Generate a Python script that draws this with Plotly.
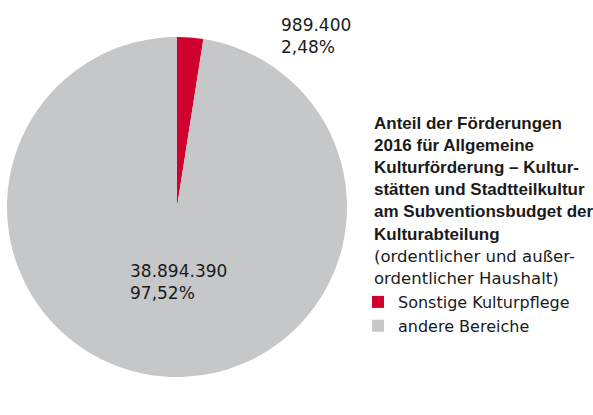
import plotly.graph_objects as go

# ---- data ----
labels = ["Sonstige Kulturpflege", "andere Bereiche"]
values = [989400, 38894390]
colors = ["#D0002F", "#C6C7C9"]

title_bold_lines = [
    "Anteil der Förderungen",
    "2016 für Allgemeine",
    "Kulturförderung – Kultur-",
    "stätten und Stadtteilkultur",
    "am Subventionsbudget der",
    "Kulturabteilung",
]
title_plain_lines = [
    "(ordentlicher und außer-",
    "ordentlicher Haushalt)",
]

W, H = 593, 415
BOLDFONT = "Liberation Sans, Arial, sans-serif"
FONT = "DejaVu Sans, sans-serif"
TXT = "#1a1a1a"


def de_num(v):
    return f"{v:,}".replace(",", ".")


def de_pct(p):
    return f"{p:.2f}".replace(".", ",") + "%"


total = sum(values)
pcts = [v / total * 100 for v in values]

fig = go.Figure(
    go.Pie(
        labels=labels,
        values=values,
        marker=dict(colors=colors, line=dict(width=0)),
        sort=False,
        direction="clockwise",
        rotation=0,
        textinfo="none",
        hoverinfo="label+value+percent",
        domain=dict(x=[7 / W, 347 / W], y=[1 - 377 / H, 1 - 37 / H]),
    )
)

annotations = []
# slice value labels
label_pos = [(279, 13), (128, 259)]
for (px, py), v, p in zip(label_pos, values, pcts):
    annotations.append(
        dict(
            x=px / W, y=1 - py / H, xref="paper", yref="paper",
            xanchor="left", yanchor="top", align="left",
            text=f"{de_num(v)}<br>{de_pct(p)}",
            showarrow=False,
            font=dict(family=FONT, size=17, color=TXT),
        )
    )

# legend title lines
line_y0 = 123
step = 22.2
for i, t in enumerate(title_bold_lines + title_plain_lines):
    bold = i < len(title_bold_lines)
    annotations.append(
        dict(
            x=372 / W, y=1 - (line_y0 + i * step) / H, xref="paper", yref="paper",
            xanchor="left", yanchor="middle", align="left",
            text=f"<b>{t}</b>" if bold else t,
            showarrow=False,
            font=dict(family=BOLDFONT if bold else FONT, size=17 if bold else 16.5, color=TXT),
        )
    )

fig.update_layout(
    width=W, height=H,
    margin=dict(l=0, r=0, t=0, b=0),
    paper_bgcolor="white",
    plot_bgcolor="white",
    showlegend=True,
    legend=dict(
        x=358 / W, y=1 - 285 / H, xanchor="left", yanchor="top",
        font=dict(family=FONT, size=16, color=TXT),
        bgcolor="rgba(0,0,0,0)",
        itemwidth=30,
        tracegroupgap=0,
    ),
    annotations=annotations,
)

fig.write_html(
    "out.html",
    config={"displayModeBar": False},
    post_script="document.body.style.margin='0px';document.body.style.overflow='hidden';",
)
